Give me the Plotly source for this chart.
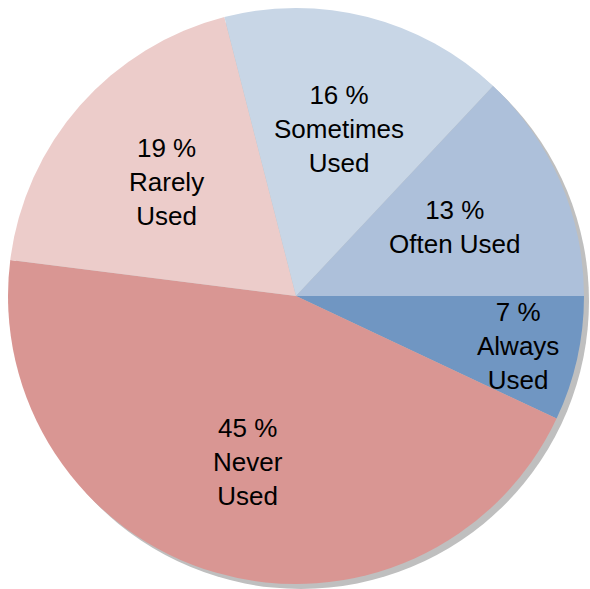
import math
import plotly.graph_objects as go

labels = ["Always Used", "Never Used", "Rarely Used", "Sometimes Used", "Often Used"]
values = [7, 45, 19, 16, 13]
label_text = ["7 %<br>Always<br>Used", "45 %<br>Never<br>Used", "19 %<br>Rarely<br>Used",
              "16 %<br>Sometimes<br>Used", "13 %<br>Often Used"]
colors = ["#7096c2", "#d99693", "#ecccca", "#c8d6e6", "#adc0da"]

W, H = 590, 589
cx, cy, R = 296, 296, 288
sh = 5

def dom(x0, x1, y0, y1):
    return dict(x=[x0 / W, x1 / W], y=[1 - y1 / H, 1 - y0 / H])

fig = go.Figure()
# shadow
fig.add_trace(go.Pie(values=[1], labels=["shadow"], marker=dict(colors=["#bfbfbf"], line=dict(width=0)),
                     textinfo="none", hoverinfo="skip", sort=False, showlegend=False,
                     domain=dom(cx - R + sh, cx + R + sh, cy - R + sh, cy + R + sh)))
fig.add_trace(go.Pie(values=values, labels=labels, marker=dict(colors=colors, line=dict(width=0)),
                     textinfo="none", sort=False, direction="clockwise", rotation=90,
                     showlegend=False, domain=dom(cx - R, cx + R, cy - R, cy + R)))

# label positions from data (mid-angle of each slice)
rad_frac = [0.79, 0.6, 0.6, 0.6, 0.6]
total = sum(values)
cum = 0
for v, t, rf in zip(values, label_text, rad_frac):
    mid = (cum + v / 2) / total * 360
    cum += v
    ang = math.radians(-mid)
    px = cx + rf * R * math.cos(ang)
    py = cy - rf * R * math.sin(ang)
    fig.add_annotation(x=px / W, y=1 - py / H, xref="paper", yref="paper", text=t,
                       showarrow=False, xanchor="center", yanchor="middle",
                       font=dict(family="Liberation Sans, Arial", size=26, color="#000000"))

fig.update_layout(width=W, height=H, margin=dict(l=0, r=0, t=0, b=0),
                  paper_bgcolor="white", plot_bgcolor="white")
fig.write_html("out.html")
